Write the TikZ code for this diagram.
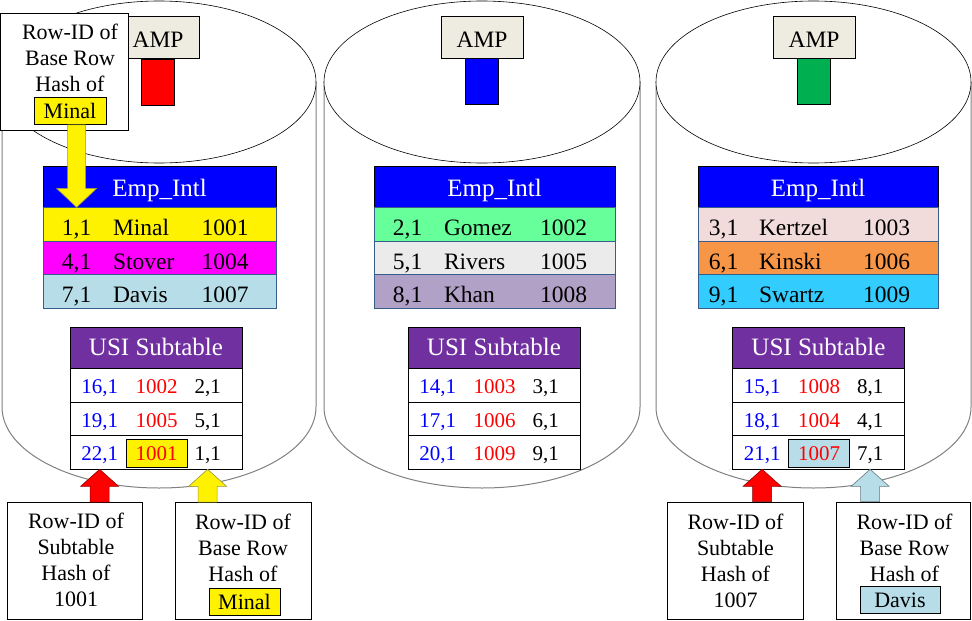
\documentclass[tikz,border=0pt]{standalone}
\usepackage{fontspec}
\setmainfont{Liberation Serif}
\usetikzlibrary{positioning,calc}

\definecolor{ampgray}{HTML}{EEECE1}
\definecolor{ampgreen}{HTML}{00B050}
\definecolor{usipurple}{HTML}{7030A0}
\definecolor{rowedge}{HTML}{385D8A}
\definecolor{lblue}{HTML}{B7DDE8}
\definecolor{pinkrow}{HTML}{FF00FF}
\definecolor{mint}{HTML}{66FF99}
\definecolor{lgray}{HTML}{EBEBEB}
\definecolor{lilac}{HTML}{B2A1C7}
\definecolor{blush}{HTML}{F2DCDB}
\definecolor{peach}{HTML}{F79646}
\definecolor{sky}{HTML}{33CCFF}

\tikzset{
  cylside/.style={draw=black!50, line width=1pt},
  cyltop/.style={draw=black, line width=0.6pt},
  ampbox/.style={draw, fill=ampgray, minimum width=82pt, minimum height=42pt, inner sep=0pt,
    font=\fontsize{23.5}{28}\selectfont, text height=20pt, text depth=0pt},
  barbox/.style={draw, minimum width=33pt, minimum height=46pt, inner sep=0pt},
  emphead/.style={draw, fill=blue, text=white, minimum height=41pt, inner sep=0pt,
    font=\fontsize{25}{29}\selectfont, text height=19pt, text depth=0pt},
  emprow/.style={draw=rowedge, minimum height=33.4pt, inner sep=0pt, anchor=north},
  cell/.style={inner sep=0pt, anchor=base, font=\fontsize{23.5}{27}\selectfont},
  usihead/.style={draw, fill=usipurple, text=white, minimum width=172pt, minimum height=41pt, inner sep=0pt,
    font=\fontsize{25}{29}\selectfont, text height=15pt, text depth=0pt},
  usirow/.style={draw, fill=white, minimum width=172pt, minimum height=33.4pt, inner sep=0pt, anchor=north},
  subcell/.style={inner sep=0pt, anchor=base, font=\fontsize{21}{25}\selectfont},
  hl/.style={draw=black, fill=#1, minimum width=61pt, minimum height=28pt, text height=15pt, text depth=0pt},
  hly/.style={hl=yellow},
  hlb/.style={hl=lblue},
  nohl/.style={},
  callbox/.style={draw, fill=white, minimum height=117pt, inner sep=0pt},
  calltxt/.style={align=center, inner sep=0pt, anchor=base, font=\fontsize{22}{26}\selectfont},
  tagbox/.style={draw, minimum height=27pt, inner sep=0pt, font=\fontsize{22}{26}\selectfont,
    text height=15.5pt, text depth=0pt},
  blockarr/.style={fill=#1, draw=#1!55!black, line width=0.6pt},
}

\begin{document}
\begin{tikzpicture}[x=1pt, y=-1pt, line width=0.75pt]
  \useasboundingbox (0,0) rectangle (972,621);

  % the three disks
  \foreach \cx/\rx in {159/157, 482/158, 813.5/157.5} {
    \draw[cylside] (\cx-\rx,82) -- (\cx-\rx,407)
      arc[start angle=180, end angle=0, x radius=\rx, y radius=81] -- (\cx+\rx,82);
    \draw[cyltop, fill=white] (\cx,82) ellipse[x radius=\rx, y radius=81];
  }

  % AMPs
  \node[ampbox] (amp1) at (158,37.5) {AMP};
  \node[barbox, fill=red, below=0pt of amp1] (bar1) {};
  \node[ampbox] (amp2) at (482,37) {AMP};
  \node[barbox, fill=blue, below=0pt of amp2] (bar2) {};
  \node[ampbox] (amp3) at (814,37) {AMP};
  \node[barbox, fill=ampgreen, below=0pt of amp3] (bar3) {};

  % base table rows
  \node[emphead, minimum width=233pt] (h1) at (159.5,186.5) {Emp\_Intl};
  \foreach \col/\id/\nm/\num [count=\r] in {yellow/{1,1}/Minal/1001, pinkrow/{4,1}/Stover/1004, lblue/{7,1}/Davis/1007} {
    \node[emprow, fill=\col, minimum width=233pt] (e1\r) at ($(h1.south)+(0,{33.4*(\r-1)})$) {};
    \node[cell] (ea1\r) at ($(e1\r.west)+(34,11.5)$) {\id};
    \node[cell, anchor=base west] (eb1\r) at ($(e1\r.west)+(70,11.5)$) {\nm};
    \node[cell] (ec1\r) at ($(e1\r.west)+(182.5,11.5)$) {\num};
  }
  \node[emphead, minimum width=241pt] (h2) at (494.5,186.5) {Emp\_Intl};
  \foreach \col/\id/\nm/\num [count=\r] in {mint/{2,1}/Gomez/1002, lgray/{5,1}/Rivers/1005, lilac/{8,1}/Khan/1008} {
    \node[emprow, fill=\col, minimum width=241pt] (e2\r) at ($(h2.south)+(0,{33.4*(\r-1)})$) {};
    \node[cell] (ea2\r) at ($(e2\r.west)+(34,11.5)$) {\id};
    \node[cell, anchor=base west] (eb2\r) at ($(e2\r.west)+(70,11.5)$) {\nm};
    \node[cell] (ec2\r) at ($(e2\r.west)+(190,11.5)$) {\num};
  }
  \node[emphead, minimum width=240pt] (h3) at (818,186.5) {Emp\_Intl};
  \foreach \col/\id/\nm/\num [count=\r] in {blush/{3,1}/Kertzel/1003, peach/{6,1}/Kinski/1006, sky/{9,1}/Swartz/1009} {
    \node[emprow, fill=\col, minimum width=240pt] (e3\r) at ($(h3.south)+(0,{33.4*(\r-1)})$) {};
    \node[cell] (ea3\r) at ($(e3\r.west)+(26,11.5)$) {\id};
    \node[cell, anchor=base west] (eb3\r) at ($(e3\r.west)+(61,11.5)$) {\nm};
    \node[cell] (ec3\r) at ($(e3\r.west)+(189,11.5)$) {\num};
  }

  % USI subtables
  \node[usihead] (u1) at (156,347.5) {USI Subtable};
  \foreach \a/\b/\c/\h [count=\r] in {{16,1}/1002/{2,1}/nohl, {19,1}/1005/{5,1}/nohl, {22,1}/1001/{1,1}/hly} {
    \node[usirow] (u1\r) at ($(u1.south)+(0,{33.4*(\r-1)})$) {};
    \node[subcell, text=blue] (ua1\r) at ($(u1\r.west)+(30,8.5)$) {\a};
    \node[subcell, text=red, \h] (ub1\r) at ($(u1\r.west)+(87,8.5)$) {\b};
    \node[subcell] (uc1\r) at ($(u1\r.west)+(138,8.5)$) {\c};
  }
  \node[usihead] (u2) at (494,347.5) {USI Subtable};
  \foreach \a/\b/\c/\h [count=\r] in {{14,1}/1003/{3,1}/nohl, {17,1}/1006/{6,1}/nohl, {20,1}/1009/{9,1}/nohl} {
    \node[usirow] (u2\r) at ($(u2.south)+(0,{33.4*(\r-1)})$) {};
    \node[subcell, text=blue] (ua2\r) at ($(u2\r.west)+(30,8.5)$) {\a};
    \node[subcell, text=red, \h] (ub2\r) at ($(u2\r.west)+(87,8.5)$) {\b};
    \node[subcell] (uc2\r) at ($(u2\r.west)+(138,8.5)$) {\c};
  }
  \node[usihead] (u3) at (818.5,347.5) {USI Subtable};
  \foreach \a/\b/\c/\h [count=\r] in {{15,1}/1008/{8,1}/nohl, {18,1}/1004/{4,1}/nohl, {21,1}/1007/{7,1}/hlb} {
    \node[usirow] (u3\r) at ($(u3.south)+(0,{33.4*(\r-1)})$) {};
    \node[subcell, text=blue] (ua3\r) at ($(u3\r.west)+(30,8.5)$) {\a};
    \node[subcell, text=red, \h] (ub3\r) at ($(u3\r.west)+(87,8.5)$) {\b};
    \node[subcell] (uc3\r) at ($(u3\r.west)+(138,8.5)$) {\c};
  }

  % callouts (text placed on its last baseline)
  \node[callbox, minimum width=128pt] (cb0) at (64,71.5) {};
  \node[calltxt] (ct0) at ($(cb0.north)+(6,79)$) {Row-ID of\\Base Row\\Hash of};
  \node[tagbox, fill=yellow, minimum width=72pt] (mn1) at (70,111) {Minal};

  \node[callbox, minimum width=135pt] (cb1) at (74.5,561) {};
  \node[calltxt] (ct1) at ($(cb1.north)+(1.5,104.5)$) {Row-ID of\\Subtable\\Hash of\\1001};
  \node[callbox, minimum width=136pt] (cb2) at (243,561) {};
  \node[calltxt] (ct2) at ($(cb2.north)+(0,79.5)$) {Row-ID of\\Base Row\\Hash of};
  \node[tagbox, fill=yellow, minimum width=71pt] (mn2) at (244.5,601.5) {Minal};

  \node[callbox, minimum width=136pt] (cb3) at (735,560.5) {};
  \node[calltxt] (ct3) at ($(cb3.north)+(0.5,105.5)$) {Row-ID of\\Subtable\\Hash of\\1007};
  \node[callbox, minimum width=134pt] (cb4) at (903,560.5) {};
  \node[calltxt] (ct4) at ($(cb4.north)+(1.5,80)$) {Row-ID of\\Base Row\\Hash of};
  \node[tagbox, fill=lblue, minimum width=80pt] (dv) at (900,600) {Davis};

  % block arrows
  \draw[blockarr=yellow] let \p1=(ea11 |- e11.north), \p2=(mn1.south) in
    (\x1,\y1) -- (\x1-20pt,\y1+19pt) -- (\x1-9pt,\y1+19pt) -- (\x1-9pt,\y2)
    -- (\x1+9pt,\y2) -- (\x1+9pt,\y1+19pt) -- (\x1+20pt,\y1+19pt) -- cycle;
  \foreach \tip/\row/\cbx/\col in {ua13/u13/cb1/red, uc13/u13/cb2/yellow, ua33/u33/cb3/red, uc33/u33/cb4/lblue} {
    \draw[blockarr=\col] let \p1=(\tip |- \row.south), \p2=(\cbx.north) in
      (\x1,\y1) -- (\x1+19pt,\y1-17pt) -- (\x1+9.5pt,\y1-17pt) -- (\x1+9.5pt,\y2)
      -- (\x1-9.5pt,\y2) -- (\x1-9.5pt,\y1-17pt) -- (\x1-19pt,\y1-17pt) -- cycle;
  }
\end{tikzpicture}
\end{document}
